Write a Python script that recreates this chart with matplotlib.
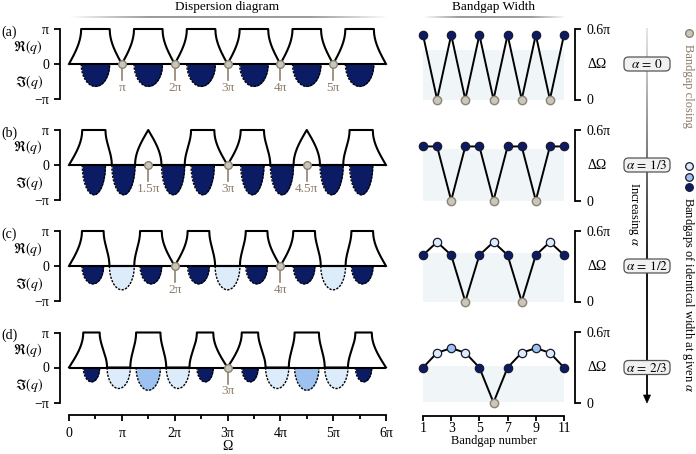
import numpy as np
import matplotlib
matplotlib.use('Agg')
import matplotlib.pyplot as plt
import matplotlib.colors as mcolors
from matplotlib.collections import LineCollection
from matplotlib.patches import FancyBboxPatch, Polygon
from matplotlib.transforms import ScaledTranslation

plt.rcParams['font.family'] = ['Liberation Serif', 'DejaVu Serif']
plt.rcParams['mathtext.fontset'] = 'stix'

W, H = 696, 454
PI = np.pi
PX2PT = 72 / 100

# ---------------- data (frequencies / widths in units of pi) ----------------
panel_labels = ['(a)', '(b)', '(c)', '(d)']
alpha_labels = [r'$\alpha\,=\,0$', r'$\alpha\,=\,1/3$', r'$\alpha\,=\,1/2$', r'$\alpha\,=\,2/3$']
gap_number = [1, 2, 3, 4, 5, 6, 7, 8, 9, 10, 11]

# gap types: D dark, L light, M mid, C closed
a_types = ['D', 'C', 'D', 'C', 'D', 'C', 'D', 'C', 'D', 'C', 'D']
b_types = ['D', 'D', 'C', 'D', 'D', 'C', 'D', 'D', 'C', 'D', 'D']
c_types = ['D', 'L', 'D', 'C', 'D', 'L', 'D', 'C', 'D', 'L', 'D']
d_types = ['D', 'L', 'M', 'L', 'D', 'C', 'D', 'L', 'M', 'L', 'D']

# gap edges in the dispersion diagrams
a_lo = [0.23, 1.00, 1.23, 2.00, 2.23, 3.00, 3.23, 4.00, 4.23, 5.00, 5.23]
a_hi = [0.77, 1.00, 1.77, 2.00, 2.77, 3.00, 3.77, 4.00, 4.77, 5.00, 5.77]
b_lo = [0.25, 0.81, 1.50, 1.75, 2.31, 3.00, 3.25, 3.81, 4.50, 4.75, 5.31]
b_hi = [0.69, 1.25, 1.50, 2.19, 2.75, 3.00, 3.69, 4.25, 4.50, 5.19, 5.75]
c_lo = [0.245, 0.765, 1.345, 2.00, 2.245, 2.765, 3.345, 4.00, 4.245, 4.765, 5.345]
c_hi = [0.655, 1.235, 1.755, 2.00, 2.655, 3.235, 3.755, 4.00, 4.655, 5.235, 5.755]
d_lo = [0.27, 0.72, 1.27, 1.84, 2.42, 3.00, 3.27, 3.72, 4.27, 4.84, 5.42]
d_hi = [0.58, 1.16, 1.73, 2.28, 2.73, 3.00, 3.58, 4.16, 4.73, 5.28, 5.73]

# maximal imaginary part in each gap
a_depth = [0.64, 0, 0.64, 0, 0.64, 0, 0.64, 0, 0.64, 0, 0.64]
b_depth = [0.85, 0.85, 0, 0.85, 0.85, 0, 0.85, 0.85, 0, 0.85, 0.85]
c_depth = [0.51, 0.68, 0.51, 0, 0.51, 0.68, 0.51, 0, 0.51, 0.68, 0.51]
d_depth = [0.41, 0.60, 0.65, 0.60, 0.41, 0, 0.41, 0.60, 0.65, 0.60, 0.41]

# bandgap widths
a_width = [0.55, 0, 0.55, 0, 0.55, 0, 0.55, 0, 0.55, 0, 0.55]
b_width = [0.46, 0.46, 0, 0.46, 0.46, 0, 0.46, 0.46, 0, 0.46, 0.46]
c_width = [0.395, 0.506, 0.395, 0, 0.395, 0.506, 0.395, 0, 0.395, 0.506, 0.395]
d_width = [0.297, 0.424, 0.462, 0.424, 0.297, 0, 0.297, 0.424, 0.462, 0.424, 0.297]

shade_top = [0.42, 0.44, 0.41, 0.31]

a_close_labels = ['π', '2π', '3π', '4π', '5π']
b_close_labels = ['1.5π', '3π', '4.5π']
c_close_labels = ['2π', '4π']
d_close_labels = ['3π']

omega_ticks = [0, 1, 2, 3, 4, 5, 6]
omega_ticklabels = ['0', 'π', '2π', '3π', '4π', '5π', '6π']
gap_ticks = [1, 3, 5, 7, 9, 11]

panels = [
    (a_types, a_lo, a_hi, a_depth, a_width, a_close_labels),
    (b_types, b_lo, b_hi, b_depth, b_width, b_close_labels),
    (c_types, c_lo, c_hi, c_depth, c_width, c_close_labels),
    (d_types, d_lo, d_hi, d_depth, d_width, d_close_labels),
]

# ---------------- style ----------------
DARK = '#0b1c64'
LIGHT = '#dcecfb'
MID = '#9dc2f0'
GREY_FILL = '#c9c6bc'
GREY_EDGE = '#8d8272'
BROWN = '#8b7b68'
SHADE = '#f0f5f7'
fills = {'D': DARK, 'L': LIGHT, 'M': MID}

zero_y = [64, 165, 266, 367.5]
wzero_y = [99.5, 200.5, 301.5, 402.5]

fig = plt.figure(figsize=(W / 100, H / 100), dpi=100)


def add_ax(x0, x1, ytop, ybot):
    return fig.add_axes([x0 / W, 1 - ybot / H, (x1 - x0) / W, (ybot - ytop) / H])


def re_curve(lo, hi, types):
    los = [0.0] + list(lo) + [6.0]
    his = [0.0] + list(hi) + [6.0]
    closed = [True] + [t == 'C' for t in types] + [True]
    levels = [0.0 if k % 2 == 0 else PI for k in range(13)]
    xs, ys = [], []
    for k in range(13):
        xs += [los[k], his[k]]
        ys += [levels[k], levels[k]]
        if k < 12:
            t = np.linspace(0, 1, 80)
            c0, c1 = closed[k], closed[k + 1]
            if not c0 and not c1:
                f = t
            elif c0 and not c1:
                f = t ** 2
            elif (not c0) and c1:
                f = 1 - (1 - t) ** 2
            else:
                f = 3 * t ** 2 - 2 * t ** 3
            D0, D1 = np.cos(levels[k]), np.cos(levels[k + 1])
            q = np.arccos(np.clip(D0 + (D1 - D0) * f, -1, 1))
            om = his[k] + (los[k + 1] - his[k]) * t
            xs += list(om)
            ys += list(q)
    return np.array(xs) * PI, np.array(ys)


for i, (types, lo, hi, depth, width, clabels) in enumerate(panels):
    z = zero_y[i]
    ax = add_ax(69, 386, z - 42, z + 42)
    ax.set_xlim(0, 6 * PI)
    ax.set_ylim(-1.2 * PI, 1.2 * PI)
    ax.patch.set_alpha(0)
    for s in ['top', 'right', 'bottom']:
        ax.spines[s].set_visible(False)
    ax.spines['left'].set_position(('outward', 9 * PX2PT))
    ax.spines['left'].set_bounds(-PI, PI)
    ax.spines['left'].set_linewidth(1.3)
    ax.set_yticks([-PI, 0, PI])
    ax.set_yticklabels(['−π', '0', 'π'])
    ax.tick_params(axis='y', direction='out', length=6 * PX2PT, width=1.3, pad=3.5, labelsize=10)
    ax.set_xticks([])

    # imaginary part bulges
    for k in range(11):
        if types[k] == 'C':
            continue
        s = np.linspace(0, 1, 160)
        om = (lo[k] + (hi[k] - lo[k]) * s) * PI
        im = depth[k] * PI * np.sqrt(np.clip(4 * s * (1 - s), 0, 1))
        ax.fill_between(om, -im, 0, color=fills[types[k]], lw=0, zorder=1)
        ax.plot(om, -im, color='black', lw=1.0, ls=(0, (1.6, 1.0)), zorder=2)

    # real part
    xr, yr = re_curve(lo, hi, types)
    ax.fill_between(xr, yr, 0, color='white', lw=0, zorder=2)
    ax.plot(xr, yr, color='black', lw=1.5, zorder=3, solid_joinstyle='round', clip_on=False)
    ax.plot([0, 6 * PI], [0, 0], color='black', lw=1.5, zorder=3, solid_capstyle='butt')

    # closing markers
    ci = 0
    for k in range(11):
        if types[k] != 'C':
            continue
        xc = lo[k] * PI
        ax.plot([xc, xc], [0, -0.47 * PI], color=GREY_EDGE, lw=1.2, zorder=4)
        ax.plot([xc], [0], 'o', ms=5.5, mfc=GREY_FILL, mec=GREY_EDGE, mew=1.0, zorder=5, clip_on=False)
        ax.text(xc, -0.68 * PI, clabels[ci], ha='center', va='center', fontsize=9.5, color=BROWN)
        ci += 1

    # bandgap width panel
    zw = wzero_y[i]
    axw = add_ax(423, 564, zw - 70.5, zw)
    axw.set_xlim(1, 11)
    axw.set_ylim(0, 0.6 * PI)
    axw.patch.set_alpha(0)
    for s in ['top', 'left', 'bottom']:
        axw.spines[s].set_visible(False)
    axw.spines['right'].set_position(('outward', 11 * PX2PT))
    axw.spines['right'].set_bounds(0, 0.6 * PI)
    axw.spines['right'].set_linewidth(1.3)
    axw.yaxis.tick_right()
    axw.set_yticks([0, 0.6 * PI])
    axw.set_yticklabels(['0', '0.6π'])
    axw.tick_params(axis='y', direction='out', length=6 * PX2PT, width=1.3, pad=4, labelsize=10)
    axw.set_xticks([])
    axw.fill_between([1, 11], 0, shade_top[i] * PI, color=SHADE, lw=0, zorder=0)
    wv = np.array(width) * PI
    axw.plot(gap_number, wv, color='black', lw=1.4, zorder=2, clip_on=False)
    for k in range(11):
        if types[k] == 'C':
            axw.plot([gap_number[k]], [wv[k]], 'o', ms=6, mfc=GREY_FILL, mec=GREY_EDGE, mew=1.0,
                     zorder=3, clip_on=False)
        else:
            axw.plot([gap_number[k]], [wv[k]], 'o', ms=6, mfc=fills[types[k]], mec='#1a1a30', mew=0.9,
                     zorder=3, clip_on=False)
    axw.text(1.0, 0.5, 'ΔΩ', ha='left', va='center', fontsize=10,
             transform=axw.transAxes + ScaledTranslation(23 / 100, 0, fig.dpi_scale_trans))

# bottom axes
axb = add_ax(69, 386, 400, 415)
axb.set_xlim(0, 6 * PI)
axb.patch.set_alpha(0)
for s in ['top', 'left', 'right']:
    axb.spines[s].set_visible(False)
axb.spines['bottom'].set_linewidth(1.3)
axb.set_yticks([])
axb.set_xticks(np.array(omega_ticks) * PI)
axb.set_xticklabels(omega_ticklabels)
axb.set_xticks((np.array(omega_ticks[:-1]) + 0.5) * PI, minor=True)
axb.tick_params(axis='x', which='major', direction='out', length=6 * PX2PT, width=1.3, pad=4, labelsize=10)
axb.tick_params(axis='x', which='minor', direction='out', length=3.5 * PX2PT, width=1.3)
axb.set_xlabel('Ω', fontsize=10, labelpad=0)

axb2 = add_ax(423, 564, 400, 416)
axb2.set_xlim(1, 11)
axb2.patch.set_alpha(0)
for s in ['top', 'left', 'right']:
    axb2.spines[s].set_visible(False)
axb2.spines['bottom'].set_linewidth(1.3)
axb2.set_yticks([])
axb2.set_xticks(gap_ticks)
axb2.set_xticklabels([str(g) for g in gap_ticks])
axb2.tick_params(axis='x', which='major', direction='out', length=5 * PX2PT, width=1.3, pad=0.5, labelsize=10)
axb2.set_xlabel('Bandgap number', fontsize=9, labelpad=0)

# overlay for annotation
ov = fig.add_axes([0, 0, 1, 1])
ov.set_xlim(0, W)
ov.set_ylim(H, 0)
ov.axis('off')
ov.patch.set_alpha(0)


def grad_hline(x0, x1, y, color, lw):
    xs = np.linspace(x0, x1, 80)
    segs = [[(xs[j], y), (xs[j + 1], y)] for j in range(79)]
    u = ((xs[:-1] + xs[1:]) / 2 - x0) / (x1 - x0)
    a = np.clip(np.sin(np.pi * u) * 1.4, 0, 1)
    rgb = mcolors.to_rgb(color)
    ov.add_collection(LineCollection(segs, colors=[(*rgb, aa) for aa in a], linewidths=lw))


ov.text(227, 7, 'Dispersion diagram', ha='center', va='center', fontsize=9.5)
ov.text(493, 7, 'Bandgap Width', ha='center', va='center', fontsize=9.5)
grad_hline(70, 388, 17.3, '#888888', 1.2)
grad_hline(424, 566, 17.3, '#888888', 1.2)

for i in range(4):
    z = zero_y[i]
    ov.text(1, z - 32, panel_labels[i], ha='left', va='center', fontsize=10)
    ov.text(43, z - 17.5, r'$\Re(q)$', ha='right', va='center', fontsize=10)
    ov.text(43, z + 18, r'$\Im(q)$', ha='right', va='center', fontsize=10)

# vertical gradient arrow
ys = np.linspace(28, 396, 120)
segs = [[(647, ys[j]), (647, ys[j + 1])] for j in range(119)]
ym = (ys[:-1] + ys[1:]) / 2
g = np.clip(0.9 - 0.9 * (ym - 28) / 240, 0.0, 0.9)
ov.add_collection(LineCollection(segs, colors=[(gg, gg, gg) for gg in g], linewidths=1.3))
ov.add_patch(Polygon([[643.5, 395], [650.5, 395], [647, 403]], closed=True, fc='black', ec='black', lw=0.5))

for i in range(4):
    z = zero_y[i]
    ov.add_patch(FancyBboxPatch((624, z - 7), 46, 14, boxstyle='round,pad=0,rounding_size=4.5',
                                fc='#f1f1f1', ec='#555555', lw=0.9, zorder=5))
    ov.text(647, z + 0.5, alpha_labels[i], ha='center', va='center', fontsize=9.5, zorder=6)

ov.text(634, 214, r'Increasing $\alpha$', rotation=270, ha='center', va='center', fontsize=9)

# legend entries
ov.plot([689], [33], 'o', ms=5.5, mfc=GREY_FILL, mec=GREY_EDGE, mew=1.0)
ov.text(688, 44, 'Bandgap closing', rotation=270, ha='center', va='top', fontsize=9, color=BROWN)
ov.plot([689], [166], 'o', ms=5.5, mfc=LIGHT, mec='#1a1a30', mew=0.9)
ov.plot([689], [176.5], 'o', ms=5.5, mfc=MID, mec='#1a1a30', mew=0.9)
ov.plot([689], [187], 'o', ms=5.5, mfc=DARK, mec='#1a1a30', mew=0.9)
ov.text(688, 197, r'Bandgaps of identical width at given $\alpha$', rotation=270, ha='center', va='top',
        fontsize=9)

fig.savefig('out.png', dpi=100)
